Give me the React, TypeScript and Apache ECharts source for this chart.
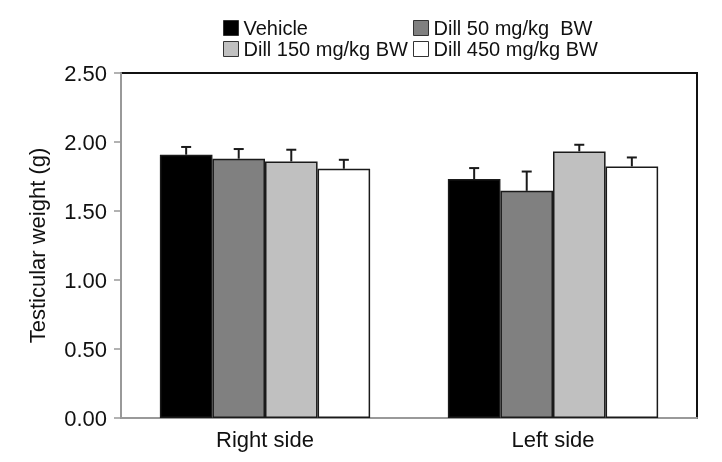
import React, { useEffect, useRef } from "react";
import * as echarts from "echarts";

const categories = ["Right side", "Left side"];
const seriesNames = ["Vehicle", "Dill 50 mg/kg  BW", "Dill 150 mg/kg BW", "Dill 450 mg/kg BW"];
const vehicle = [1.908, 1.731];
const dill50 = [1.879, 1.646];
const dill150 = [1.859, 1.932];
const dill450 = [1.806, 1.823];
const vehicleErr = [0.056, 0.08];
const dill50Err = [0.07, 0.14];
const dill150Err = [0.085, 0.048];
const dill450Err = [0.065, 0.065];
const yTicks = [0, 0.5, 1.0, 1.5, 2.0, 2.5];

const colors = ["#000000", "#808080", "#c0c0c0", "#ffffff"];
const FONT = "Liberation Sans, Arial, sans-serif";
const CAT_GAP = 0.27;

export default function App() {
  const ref = useRef<HTMLDivElement>(null);
  useEffect(() => {
    if (!ref.current) return;
    const chart = echarts.init(ref.current, null, { renderer: "svg" });
    const values = [vehicle, dill50, dill150, dill450];
    const errs = [vehicleErr, dill50Err, dill150Err, dill450Err];
    const errData: number[][] = [];
    values.forEach((arr, si) => {
      arr.forEach((v, ci) => {
        errData.push([ci, v + errs[si][ci], v, si]);
      });
    });
    const legendPos = [
      { left: 223, top: 18 },
      { left: 413, top: 18 },
      { left: 223, top: 39 },
      { left: 413, top: 39 },
    ];
    chart.setOption({
      animation: false,
      textStyle: { fontFamily: FONT },
      legend: seriesNames.map((n, i) => ({
        data: [n],
        left: legendPos[i].left,
        top: legendPos[i].top,
        padding: 0,
        itemWidth: 15,
        itemHeight: 15,
        icon: "rect",
        selectedMode: false,
        textStyle: { fontSize: 20, color: "#111", fontFamily: FONT },
        itemStyle: { borderColor: "#333", borderWidth: 1 },
      })),
      grid: {
        left: 121,
        right: 25,
        top: 73,
        bottom: 44,
        show: true,
        borderColor: "#111",
        borderWidth: 2,
        backgroundColor: "transparent",
      },
      xAxis: {
        type: "category",
        data: categories,
        axisTick: { show: false },
        axisLine: { lineStyle: { color: "#999", width: 2 } },
        axisLabel: { fontSize: 22, color: "#111", margin: 10, fontFamily: FONT },
      },
      yAxis: {
        type: "value",
        min: 0,
        max: 2.5,
        interval: 0.5,
        name: "Testicular weight (g)",
        nameLocation: "middle",
        nameRotate: 90,
        nameGap: 73,
        nameTextStyle: { fontSize: 22, color: "#111", fontFamily: FONT },
        axisLine: { show: true, lineStyle: { color: "#999", width: 2 } },
        axisTick: { show: true, length: 7, lineStyle: { color: "#999", width: 1.5 } },
        splitLine: { show: false },
        axisLabel: {
          fontSize: 22,
          color: "#111",
          margin: 14,
          fontFamily: FONT,
          formatter: (v: number) => (yTicks.includes(v) ? v.toFixed(2) : ""),
        },
      },
      series: [
        ...seriesNames.map((n, i) => ({
          name: n,
          type: "bar",
          data: values[i],
          barGap: "0%",
          barCategoryGap: CAT_GAP * 100 + "%",
          itemStyle: { color: colors[i], borderColor: "#1a1a1a", borderWidth: 1.5 },
        })),
        {
          type: "custom",
          z: 5,
          data: errData,
          encode: { x: 0, y: 1 },
          renderItem: (params: any, api: any) => {
            const cat = api.value(0);
            const top = api.value(1);
            const base = api.value(2);
            const idx = api.value(3);
            const band = api.size([1, 0])[0];
            const barW = (band * (1 - CAT_GAP)) / 4;
            const p0 = api.coord([cat, base]);
            const p1 = api.coord([cat, top]);
            const x = p0[0] + (idx - 1.5) * barW;
            const style = { stroke: "#1a1a1a", lineWidth: 2 };
            return {
              type: "group",
              children: [
                { type: "line", shape: { x1: x, y1: p0[1], x2: x, y2: p1[1] }, style },
                { type: "line", shape: { x1: x - 5, y1: p1[1], x2: x + 5, y2: p1[1] }, style },
              ],
            };
          },
        },
      ],
    });
    return () => chart.dispose();
  }, []);
  return (
    <div
      ref={ref}
      style={{ position: "fixed", left: 0, top: 0, width: 722, height: 462 }}
    />
  );
}
